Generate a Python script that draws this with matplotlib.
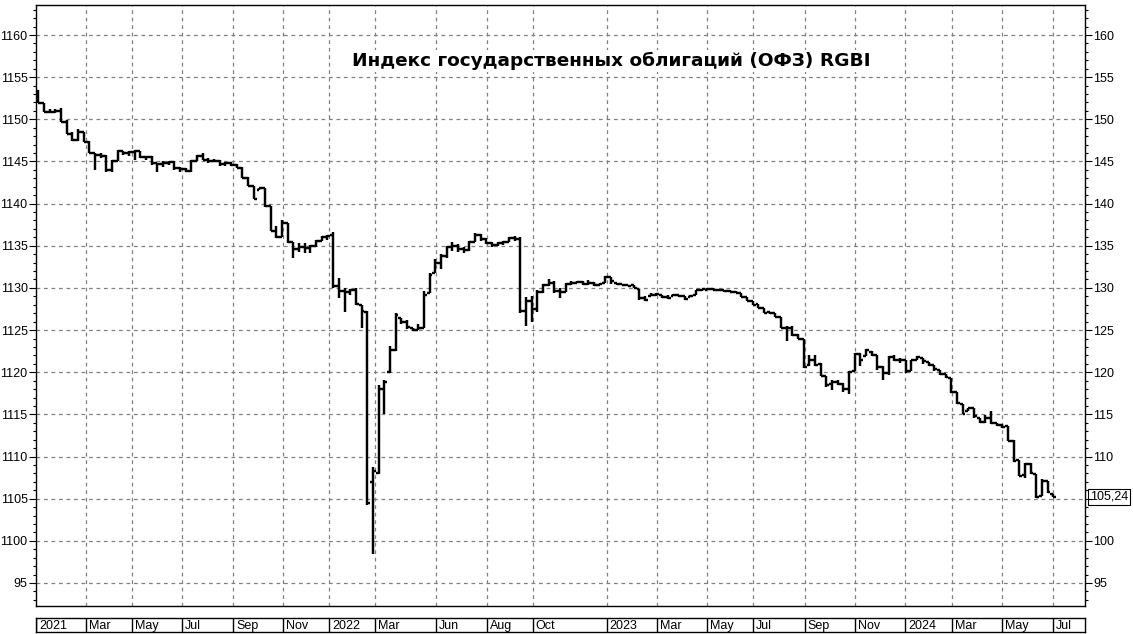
import matplotlib
matplotlib.use("Agg")
import matplotlib.pyplot as plt
import matplotlib.transforms as mtransforms
from matplotlib.ticker import FixedLocator, MultipleLocator
import numpy as np

# ---------------- data (weekly bars, value = RGBI - 1000 as in the chart's right axis) ----------------
title = "Индекс государственных облигаций (ОФЗ) RGBI"

opens = [153.4, 151.9, 150.9, 150.9, 151.0, 149.7, 148.3, 147.5, 148.5, 147.3,
         146.0, 145.8, 145.6, 144.0, 145.0, 146.2, 146.0, 146.1, 146.2, 145.5,
         145.5, 144.8, 144.7, 144.8, 144.9, 144.2, 144.1, 143.9, 145.1, 145.6,
         145.2, 145.0, 145.0, 144.7, 144.8, 144.6, 144.2, 143.0, 142.1, 141.6,
         141.8, 139.7, 136.8, 136.0, 137.7, 135.5, 134.6, 134.9, 134.7, 135.0,
         135.6, 136.0, 136.3, 130.2, 129.6, 129.5, 129.8, 128.0, 127.2, 107.0,
         108.0, 118.0, 120.0, 122.6, 126.4, 125.9, 125.3, 125.0, 125.3, 129.4,
         131.8, 133.0, 133.8, 134.8, 135.0, 134.6, 134.5, 135.5, 136.3, 135.8,
         135.3, 135.1, 135.3, 135.5, 135.9, 135.8, 127.3, 128.4, 127.5, 129.5,
         130.3, 130.6, 129.6, 129.5, 130.5, 130.6, 130.7, 130.5, 130.6, 130.3,
         130.6, 131.3, 130.6, 130.5, 130.4, 130.3, 129.9, 128.8, 129.0, 129.2,
         129.2, 128.9, 129.0, 129.2, 129.0, 128.9, 129.2, 129.7, 129.8, 129.9,
         129.8, 129.7, 129.6, 129.5, 129.4, 128.9, 128.5, 128.1, 127.6, 127.2,
         127.0, 126.6, 125.3, 125.3, 124.4, 124.0, 120.8, 121.4, 121.0, 119.5,
         118.6, 118.8, 118.6, 118.0, 120.1, 122.2, 121.9, 122.4, 122.1, 120.6,
         119.9, 121.8, 121.5, 121.4, 120.2, 121.5, 121.7, 121.2, 120.9, 120.3,
         119.8, 119.3, 117.7, 116.2, 115.4, 115.7, 114.6, 114.1, 114.6, 114.0,
         113.7, 113.6, 111.9, 109.6, 107.8, 109.1, 107.9, 105.3, 107.1, 105.5]

highs = [153.5, 151.9, 151.2, 151.2, 151.3, 149.9, 148.5, 148.9, 148.5, 147.4,
         146.0, 146.0, 145.8, 145.2, 146.4, 146.2, 146.2, 146.4, 146.2, 145.7,
         145.6, 144.8, 145.0, 145.0, 145.0, 144.3, 144.2, 145.2, 145.8, 146.0,
         145.4, 145.3, 145.2, 144.9, 144.9, 144.7, 144.3, 143.1, 142.1, 141.9,
         141.9, 139.7, 137.3, 138.1, 137.7, 135.5, 135.3, 135.3, 135.1, 135.7,
         136.1, 136.3, 136.6, 131.2, 130.0, 129.9, 130.0, 128.0, 127.3, 108.7,
         118.5, 119.1, 123.1, 127.0, 126.4, 126.2, 125.3, 125.7, 129.6, 131.8,
         133.4, 134.0, 135.0, 135.4, 135.2, 134.8, 135.6, 136.5, 136.4, 135.9,
         135.5, 135.4, 135.6, 136.0, 136.2, 136.0, 128.9, 129.0, 129.8, 130.5,
         131.0, 130.8, 130.0, 130.6, 130.8, 130.8, 130.8, 130.9, 130.7, 130.6,
         131.4, 131.3, 130.6, 130.5, 130.4, 130.3, 129.9, 129.0, 129.4, 129.4,
         129.2, 129.2, 129.3, 129.2, 129.0, 129.2, 129.8, 129.9, 130.0, 130.0,
         129.9, 129.8, 129.7, 129.6, 129.4, 128.9, 128.5, 128.1, 127.6, 127.2,
         127.0, 126.6, 125.5, 125.5, 124.5, 124.0, 122.1, 122.1, 121.1, 119.5,
         119.1, 119.1, 118.7, 120.1, 122.3, 122.3, 122.7, 122.5, 122.1, 120.7,
         121.9, 122.1, 121.7, 121.5, 121.5, 121.9, 121.7, 121.2, 120.9, 120.3,
         119.8, 119.3, 117.7, 116.2, 115.8, 115.7, 114.6, 114.9, 115.4, 114.0,
         113.8, 113.6, 112.0, 109.6, 109.2, 109.2, 107.9, 107.3, 107.1, 105.5]

lows = [151.9, 150.9, 150.7, 150.7, 149.7, 148.3, 147.4, 147.4, 147.3, 146.0,
        144.0, 145.4, 143.8, 143.8, 145.0, 145.8, 145.6, 145.2, 145.4, 145.2,
        144.6, 143.7, 144.4, 144.6, 144.0, 143.8, 143.7, 143.8, 145.1, 145.2,
        144.8, 144.9, 144.5, 144.5, 144.5, 144.2, 143.0, 142.1, 140.5, 141.6,
        139.6, 136.7, 135.9, 136.0, 135.3, 133.5, 134.3, 134.1, 134.1, 134.9,
        135.6, 135.7, 130.0, 128.8, 127.2, 129.2, 128.0, 125.3, 104.3, 98.4,
        107.9, 115.1, 119.9, 122.5, 125.7, 125.1, 124.9, 125.0, 125.3, 129.4,
        131.8, 132.2, 133.5, 134.4, 134.3, 134.2, 134.4, 135.4, 135.6, 135.2,
        134.9, 135.0, 135.1, 135.4, 135.6, 127.0, 125.5, 126.0, 127.2, 129.4,
        130.2, 129.4, 128.8, 129.5, 130.4, 130.6, 130.4, 130.4, 130.2, 130.3,
        130.6, 130.5, 130.4, 130.3, 130.2, 130.0, 128.6, 128.4, 129.0, 129.0,
        128.8, 128.7, 129.0, 128.9, 128.6, 128.9, 129.2, 129.6, 129.7, 129.7,
        129.6, 129.5, 129.5, 129.4, 128.9, 128.5, 128.0, 127.6, 127.0, 126.9,
        126.6, 125.3, 123.7, 124.3, 124.0, 120.5, 120.7, 120.7, 119.5, 118.3,
        117.9, 118.5, 117.7, 117.4, 120.1, 120.7, 121.9, 121.9, 120.3, 119.1,
        119.7, 121.3, 121.1, 119.9, 120.2, 121.5, 121.0, 120.7, 120.2, 119.7,
        119.3, 117.5, 116.2, 115.0, 115.4, 114.6, 114.0, 114.0, 113.8, 113.6,
        113.4, 111.8, 109.4, 107.7, 107.5, 107.9, 105.1, 105.3, 105.7, 105.2]

closes = [151.9, 150.9, 150.9, 151.0, 149.7, 148.3, 147.5, 148.5, 147.3, 146.0,
          145.8, 145.6, 144.0, 145.0, 146.2, 146.0, 146.1, 146.2, 145.5, 145.5,
          144.8, 144.7, 144.8, 144.9, 144.2, 144.1, 143.9, 145.1, 145.6, 145.2,
          145.0, 145.0, 144.7, 144.8, 144.6, 144.2, 143.0, 142.1, 140.6, 141.8,
          139.7, 136.8, 136.0, 137.7, 135.5, 134.6, 134.9, 134.7, 135.0, 135.6,
          136.0, 136.2, 130.2, 129.6, 129.5, 129.8, 128.1, 127.3, 104.5, 108.3,
          118.0, 118.8, 122.6, 126.8, 125.9, 125.4, 125.0, 125.3, 129.2, 131.5,
          133.0, 133.8, 134.8, 135.0, 134.6, 134.5, 135.5, 136.3, 135.8, 135.3,
          135.1, 135.3, 135.5, 135.9, 135.8, 127.3, 128.4, 127.5, 129.5, 130.3,
          130.6, 129.6, 129.5, 130.5, 130.6, 130.7, 130.5, 130.6, 130.3, 130.5,
          131.3, 130.8, 130.5, 130.3, 130.2, 130.0, 128.8, 128.6, 129.2, 129.3,
          128.9, 128.8, 129.2, 129.0, 128.7, 129.1, 129.7, 129.9, 129.9, 129.8,
          129.7, 129.6, 129.5, 129.4, 128.9, 128.5, 128.0, 127.6, 127.0, 127.0,
          126.6, 125.3, 125.2, 124.4, 124.0, 120.6, 121.4, 120.9, 119.6, 118.5,
          118.8, 118.6, 118.0, 120.0, 122.2, 121.5, 122.6, 122.1, 120.6, 119.9,
          121.8, 121.5, 121.4, 120.2, 121.4, 121.8, 121.3, 120.9, 120.4, 119.8,
          119.4, 117.6, 116.3, 115.1, 115.7, 114.8, 114.1, 114.6, 114.0, 113.7,
          113.5, 111.9, 109.5, 107.7, 109.1, 108.0, 105.2, 107.1, 105.8, 105.24]

month_labels = ["2021", "Mar", "May", "Jul", "Sep", "Nov", "2022", "Mar", "Jun", "Aug",
                "Oct", "2023", "Mar", "May", "Jul", "Sep", "Nov", "2024", "Mar", "May", "Jul"]
month_pos = [-0.41, 8.41, 16.47, 25.40, 34.39, 43.21, 51.32, 59.38, 70.14, 79.19,
             87.20, 100.25, 109.17, 117.99, 126.0, 135.22, 144.04, 152.9, 161.09, 169.95, 178.91]

major_levels = [95, 100, 105, 110, 115, 120, 125, 130, 135, 140, 145, 150, 155, 160]
left_labels = ["95", "1100", "1105", "1110", "1115", "1120", "1125", "1130",
               "1135", "1140", "1145", "1150", "1155", "1160"]
right_labels = ["95", "100", "", "110", "115", "120", "125", "130",
                "135", "140", "145", "150", "155", "160"]
last_value = 105.24
last_label = "105,24"

# ---------------- figure ----------------
W, H = 1133, 634
FONT = "Liberation Sans"
fig = plt.figure(figsize=(W / 100, H / 100), dpi=100)
fig.patch.set_facecolor("white")

ax = fig.add_axes([36 / W, 1 - 606 / H, (1085 - 36) / W, (606 - 5) / H])
xmin, xmax = -0.41, 184.6
ax.set_xlim(xmin, xmax)
ax.set_ylim(92.27, 163.56)

x = np.arange(len(closes))
lw = 1.75
ax.vlines(x, lows, highs, color="black", lw=lw, zorder=3)
ax.hlines(opens, x - 0.5, x, color="black", lw=lw, zorder=3)
ax.hlines(closes, x, x + 0.5, color="black", lw=lw, zorder=3)

grid_kw = dict(color="#808080", lw=0.9, ls=(0, (3, 3)), zorder=1)
for lv in major_levels:
    ax.axhline(lv, **grid_kw)
for p in month_pos[1:]:
    ax.axvline(p, **grid_kw)

for s in ax.spines.values():
    s.set_color("black")
    s.set_linewidth(1.0)

ax.set_xticks([])
ax.yaxis.set_major_locator(FixedLocator(major_levels))
ax.yaxis.set_minor_locator(MultipleLocator(1))
ax.set_yticklabels(left_labels, fontsize=9, family=FONT)
ax.tick_params(axis="y", which="major", direction="out", length=5, width=0.8, pad=1, left=True, right=False)
ax.tick_params(axis="y", which="minor", direction="out", length=2.5, width=0.8, left=True, right=False)

axr = ax.twinx()
axr.set_ylim(ax.get_ylim())
axr.yaxis.set_major_locator(FixedLocator(major_levels))
axr.yaxis.set_minor_locator(MultipleLocator(1))
axr.set_yticklabels(right_labels, fontsize=9, family=FONT)
axr.tick_params(axis="y", which="major", direction="out", length=5, width=0.8, pad=1)
axr.tick_params(axis="y", which="minor", direction="out", length=2.5, width=0.8)
for s in axr.spines.values():
    s.set_visible(False)

trans = mtransforms.blended_transform_factory(ax.transAxes, ax.transData)
ax.text(1.0048, last_value, last_label, transform=trans, ha="left", va="center",
        fontsize=9, family=FONT,
        bbox=dict(boxstyle="square,pad=0.15", fc="white", ec="black", lw=0.8),
        clip_on=False)

ax.text(0.548, 0.907, title, transform=ax.transAxes, ha="center", va="center",
        fontsize=13.3, fontweight="bold", family="DejaVu Sans",
        bbox=dict(boxstyle="square,pad=0.1", fc="white", ec="none"), zorder=4)

# ---------------- date strip ----------------
axd = fig.add_axes([36 / W, 1 - 632 / H, (1085 - 36) / W, 14 / H])
axd.set_xlim(xmin, xmax)
axd.set_ylim(0, 1)
axd.set_xticks([])
axd.set_yticks([])
for s in axd.spines.values():
    s.set_color("black")
    s.set_linewidth(1.0)
for p, lab in zip(month_pos, month_labels):
    axd.axvline(p, color="black", lw=1.0)
    axd.text(p + 0.5, 0.45, lab, ha="left", va="center", fontsize=9, family=FONT)

fig.savefig("out.png", dpi=100, facecolor="white")
